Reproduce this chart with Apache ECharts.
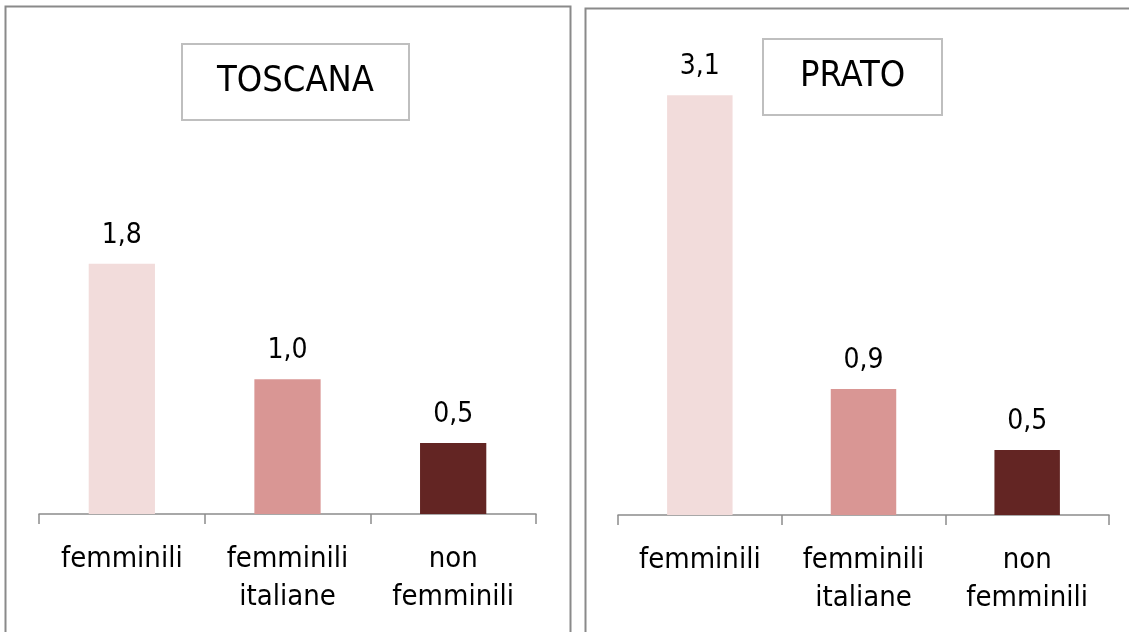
<!DOCTYPE html>
<html>
<head>
<meta charset="utf-8">
<script src="https://cdn.jsdelivr.net/npm/echarts@6/dist/echarts.min.js"></script>
<style>
  html, body { margin: 0; padding: 0; background: #fff; }
  #chart { width: 1129px; height: 632px; }
</style>
</head>
<body>
<div id="chart"></div>
<script>
// categorie e valori
const categories = ['femminili', 'femminili italiane', 'non femminili']
const toscanaValues = [1.8, 0.97, 0.51]
const pratoValues = [3.1, 0.93, 0.48]
const barColors = ['#f2dcdb', '#d99694', '#632523']
const panelTitles = ['TOSCANA', 'PRATO']

const FONT = '"DejaVu Sans Condensed", "DejaVu Sans", sans-serif'

const chart = echarts.init(document.getElementById('chart'))

function fmt(v) {
  return v.toFixed(1).replace('.', ',')
}

function xAxisFor(gridIndex) {
  return {
    type: 'category',
    gridIndex,
    data: categories,
    axisLine: { lineStyle: { color: '#8c8c8c', width: 1.5 } },
    axisTick: { show: true, length: 10, lineStyle: { color: '#8c8c8c', width: 1.5 } },
    axisLabel: {
      color: '#000',
      fontFamily: FONT,
      fontSize: 29,
      lineHeight: 38,
      margin: 26,
      interval: 0,
      formatter: (s) => s.replace(' ', '\n'),
    },
  }
}

function yAxisFor(gridIndex, max) {
  return {
    type: 'value',
    gridIndex,
    min: 0,
    max,
    show: false,
    splitLine: { show: false },
  }
}

function seriesFor(idx, values) {
  return {
    type: 'bar',
    xAxisIndex: idx,
    yAxisIndex: idx,
    barWidth: '40%',
    data: values.map((v, i) => ({ value: v, itemStyle: { color: barColors[i] } })),
    label: {
      show: true,
      position: 'top',
      distance: 14,
      color: '#000',
      fontFamily: FONT,
      fontSize: 28,
      formatter: (p) => fmt(p.value),
    },
  }
}

chart.setOption({
  animation: false,
  title: [
    {
      text: panelTitles[0],
      left: 182,
      top: 44,
      padding: [20, 35, 20, 35],
      borderColor: '#bfbfbf',
      borderWidth: 2,
      textStyle: { fontFamily: FONT, fontSize: 36, fontWeight: 'normal', color: '#000', lineHeight: 36 },
    },
    {
      text: panelTitles[1],
      left: 763,
      top: 39,
      padding: [20, 37, 20, 37],
      borderColor: '#bfbfbf',
      borderWidth: 2,
      textStyle: { fontFamily: FONT, fontSize: 36, fontWeight: 'normal', color: '#000', lineHeight: 36 },
    },
  ],
  graphic: [
    {
      type: 'rect',
      shape: { x: 5.5, y: 6.5, width: 565, height: 640 },
      style: { fill: 'none', stroke: '#8a8a8a', lineWidth: 2 },
      z: -1,
    },
    {
      type: 'rect',
      shape: { x: 585.5, y: 8.5, width: 560, height: 640 },
      style: { fill: 'none', stroke: '#8a8a8a', lineWidth: 2 },
      z: -1,
    },
  ],
  grid: [
    { left: 39, width: 497, top: 236, height: 278 },
    { left: 618, width: 491, top: 41, height: 474 },
  ],
  xAxis: [xAxisFor(0), xAxisFor(1)],
  yAxis: [yAxisFor(0, 2), yAxisFor(1, 3.5)],
  series: [seriesFor(0, toscanaValues), seriesFor(1, pratoValues)],
})
</script>
</body>
</html>
